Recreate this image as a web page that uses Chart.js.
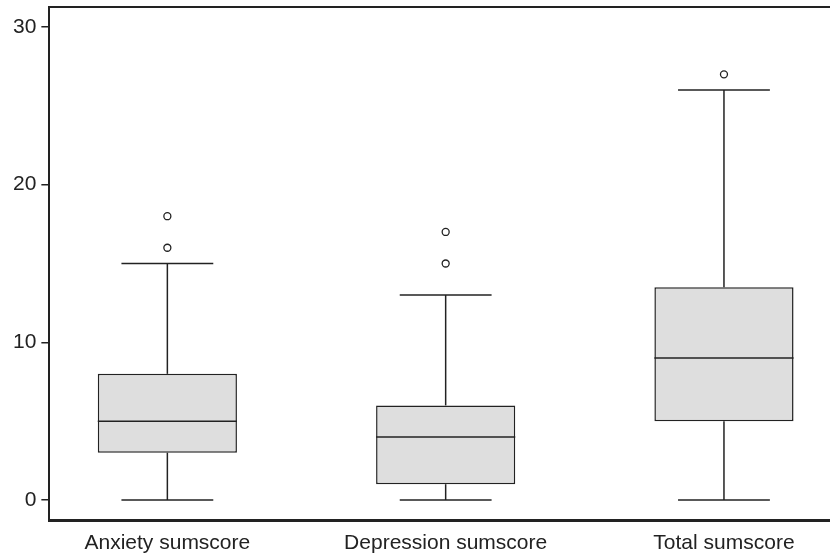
<!DOCTYPE html>
<html>
<head>
<meta charset="utf-8">
<script src="https://cdn.jsdelivr.net/npm/chart.js@4/dist/chart.umd.min.js"></script>
<style>
  html, body { margin: 0; padding: 0; background: #fff; }
  #wrap { width: 830px; height: 554px; }
</style>
</head>
<body>
<div id="wrap"><canvas id="c"></canvas></div>
<script>
// box plot values
const categories = ['Anxiety sumscore', 'Depression sumscore', 'Total sumscore'];
const whiskerLow = [0, 0, 0];
const q1 = [3, 1, 5];
const median = [5, 4, 9];
const q3 = [8, 6, 13.5];
const whiskerHigh = [15, 13, 26];
const outliers = [[16, 18], [15, 17], [27]];
const yTicks = [0, 10, 20, 30];

const INK = '#222';
const BOX_FILL = '#dedede';
const CAP_WIDTH = 0.33; // in category units
const FONT = { family: "'Liberation Sans', Arial, sans-serif", size: 21 };

const boxData = categories.map((c, i) => ({ x: i + 1, y: [q1[i], q3[i]] }));
const outlierData = [];
outliers.forEach((list, i) => list.forEach(v => outlierData.push({ x: i + 1, y: v })));

// whiskers, caps, medians and the top frame line
const boxPlotExtras = {
  id: 'boxPlotExtras',
  afterDatasetsDraw(chart) {
    const { ctx, chartArea, scales: { x, y } } = chart;
    ctx.save();
    ctx.strokeStyle = INK;
    ctx.lineWidth = 1.5;
    const half = x.getPixelForValue(1 + CAP_WIDTH / 2) - x.getPixelForValue(1);
    const boxHalf = chart.getDatasetMeta(0).data[0].width / 2;
    const line = (x1, y1, x2, y2) => {
      ctx.beginPath();
      ctx.moveTo(x1, y1);
      ctx.lineTo(x2, y2);
      ctx.stroke();
    };
    categories.forEach((c, i) => {
      const cx = x.getPixelForValue(i + 1);
      const yHi = y.getPixelForValue(whiskerHigh[i]);
      const yLo = y.getPixelForValue(whiskerLow[i]);
      line(cx, y.getPixelForValue(q3[i]), cx, yHi);
      line(cx, y.getPixelForValue(q1[i]), cx, yLo);
      line(cx - half, yHi, cx + half, yHi);
      line(cx - half, yLo, cx + half, yLo);
      const ym = y.getPixelForValue(median[i]);
      line(cx - boxHalf, ym, cx + boxHalf, ym);
    });
    ctx.lineWidth = 2;
    line(chartArea.left - 1, chartArea.top, chartArea.right, chartArea.top);
    ctx.restore();
  }
};

const noEdgePadding = axis => {
  axis.paddingTop = 0;
  axis.paddingBottom = 0;
  axis.paddingLeft = 0;
  axis.paddingRight = 0;
};

new Chart(document.getElementById('c'), {
  type: 'bar',
  data: {
    datasets: [
      {
        type: 'bar',
        data: boxData,
        backgroundColor: BOX_FILL,
        borderColor: INK,
        borderWidth: 1.5,
        borderSkipped: false,
        barPercentage: 0.5,
        categoryPercentage: 1
      },
      {
        type: 'scatter',
        data: outlierData,
        pointStyle: 'circle',
        pointRadius: 3.5,
        pointBackgroundColor: '#fff',
        pointBorderColor: INK,
        pointBorderWidth: 1.3
      }
    ]
  },
  options: {
    responsive: true,
    maintainAspectRatio: false,
    animation: false,
    layout: { autoPadding: false, padding: { top: 7, left: 8, right: 0, bottom: 1 } },
    plugins: {
      legend: { display: false },
      tooltip: { enabled: false }
    },
    scales: {
      x: {
        type: 'linear',
        offset: false,
        min: 0.576,
        max: 3.381,
        afterBuildTicks: axis => { axis.ticks = categories.map((c, i) => ({ value: i + 1 })); },
        afterFit: axis => {
          noEdgePadding(axis);
          axis.height = 33;
        },
        grid: { display: false, drawTicks: false },
        border: { display: true, color: INK, width: 3 },
        ticks: {
          padding: 11,
          autoSkip: false,
          maxRotation: 0,
          color: INK,
          font: FONT,
          callback: v => categories[v - 1]
        }
      },
      y: {
        min: -1.27,
        max: 31.27,
        afterBuildTicks: axis => { axis.ticks = yTicks.map(v => ({ value: v })); },
        afterFit: noEdgePadding,
        grid: { drawOnChartArea: false, drawTicks: true, tickLength: 8, color: INK, lineWidth: 1.5 },
        border: { display: true, color: INK, width: 2 },
        ticks: {
          padding: 5,
          color: INK,
          font: FONT
        }
      }
    }
  },
  plugins: [boxPlotExtras]
});
</script>
</body>
</html>
